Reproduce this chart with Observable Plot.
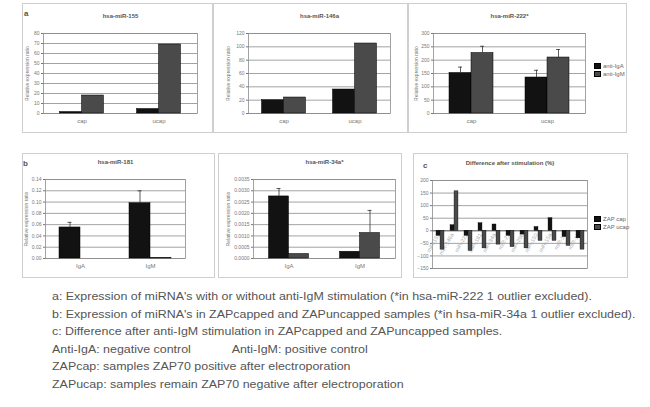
<!DOCTYPE html>
<html><head><meta charset="utf-8">
<script src="https://cdn.jsdelivr.net/npm/d3@7"></script>
<script src="https://cdn.jsdelivr.net/npm/@observablehq/plot@0.6"></script>
<style>
body{margin:0;background:#fff;font-family:"Liberation Sans",Arial,sans-serif;}
#root{position:relative;width:650px;height:407px;overflow:hidden;background:#fff;}
.box{position:absolute;outline:1px solid #cfcfcf;outline-offset:-1px;}
.box svg{display:block;}
.letter{position:absolute;font-weight:bold;font-size:8px;color:#555;}
.legend{position:absolute;font-size:6px;color:#666;line-height:8px;white-space:nowrap;}
.legend i{display:inline-block;width:5px;height:4px;margin-right:2px;border:0.5px solid #000;vertical-align:middle;}
.cap{position:absolute;left:52px;top:288px;font-size:11px;color:#555;line-height:17.6px;white-space:nowrap;transform:scaleX(1.13);transform-origin:0 0;}
</style></head><body><div id="root"></div>
<script>
// ---- data ----
const catsA = ["cap", "ucap"];
const catsB = ["IgA", "IgM"];
const seriesA = ["anti-IgA", "anti-IgM"];
const seriesC = ["ZAP cap", "ZAP ucap"];

const titleA1 = "hsa-miR-155";
const a1Black = [1.5, 4.5];
const a1Gray = [18, 69];
const a1Ticks = [0, 10, 20, 30, 40, 50, 60, 70, 80];

const titleA2 = "hsa-miR-146a";
const a2Black = [20, 36];
const a2Gray = [24, 105];
const a2Ticks = [0, 20, 40, 60, 80, 100, 120];

const titleA3 = "hsa-miR-222*";
const a3Black = [152, 135];
const a3Gray = [227, 210];
const a3ErrBlack = [22, 27];
const a3ErrGray = [25, 30];
const a3Ticks = [0, 50, 100, 150, 200, 250, 300];

const titleB1 = "hsa-miR-181";
const b1Black = [0.055, 0.098];
const b1Gray = [0, 0.001];
const b1ErrBlack = [0.009, 0.022];
const b1ErrGray = [0, 0];
const b1Ticks = [0, 0.02, 0.04, 0.06, 0.08, 0.1, 0.12, 0.14];

const titleB2 = "hsa-miR-34a*";
const b2Black = [0.00275, 0.0003];
const b2Gray = [0.0002, 0.00113];
const b2ErrBlack = [0.00035, 0];
const b2ErrGray = [0, 0.001];
const b2Ticks = [0, 0.0005, 0.001, 0.0015, 0.002, 0.0025, 0.003, 0.0035];

const titleC = "Difference after stimulation (%)";
const catsC = ["miR-155", "miR-146a", "miR-222", "miR-181", "miR-34a", "miR-21", "miR-29b", "miR-150", "miR-15a", "miR-16", "miR-17"];
const cBlack = [-20, 22, -20, 30, 25, -20, -15, 15, 50, -25, -30];
const cGray = [-75, 157, -80, -70, -55, -65, -70, -40, -40, -60, -75];
const cTicks = [-150, -100, -50, 0, 50, 100, 150, 200];

const yLabel = "Relative expression ratio";
const captions = [
  "a: Expression of miRNA's with or without anti-IgM stimulation (*in hsa-miR-222 1 outlier excluded).",
  "b: Expression of miRNA's in ZAPcapped and ZAPuncapped samples (*in hsa-miR-34a 1 outlier excluded).",
  "c: Difference after anti-IgM stimulation in ZAPcapped and ZAPuncapped samples.",
  ["Anti-IgA: negative control", "Anti-IgM: positive control"],
  "ZAPcap: samples ZAP70 positive after electroporation",
  "ZAPucap: samples remain ZAP70 negative after electroporation"
];

// ---- drawing ----
const root = document.getElementById("root");
const BLACK = "#121212", GRAY = "#4a4a4a", GRID = "#8c8c8c", TXT = "#777";

function place(el, box) {
  const d = document.createElement("div");
  d.className = "box";
  d.style.left = box[0] + "px"; d.style.top = box[1] + "px";
  d.style.width = box[2] + "px"; d.style.height = box[3] + "px";
  d.appendChild(el);
  root.appendChild(d);
}

function barPanel(s) {
  const [bx, by, bwid, bh] = s.box;
  const [l, t, r, b] = s.frame;
  const n = s.cats.length, step = (r - l) / n, w = s.bw;
  const rows = s.cats.map((c, i) => ({
    cat: c, k: s.black[i], g: s.gray[i],
    ek: (s.errB || [])[i] || 0, eg: (s.errG || [])[i] || 0
  }));
  const chart = Plot.plot({
    width: bwid, height: bh,
    marginLeft: l - bx, marginRight: bx + bwid - r,
    marginTop: t - by, marginBottom: by + bh - b,
    style: {background: "transparent", overflow: "visible", fontFamily: "Liberation Sans, Arial, sans-serif"},
    x: {type: "band", domain: s.cats, padding: 0},
    y: {domain: [s.ticks[0], s.ticks[s.ticks.length - 1]]},
    marks: [
      Plot.gridY(s.ticks, {stroke: GRID, strokeOpacity: 1, strokeWidth: 0.8}),
      Plot.frame({stroke: GRID, strokeWidth: 0.8}),
      Plot.barY(rows, {x: "cat", y: "k", fill: BLACK, stroke: "#000", strokeWidth: 0.5,
        insetLeft: step / 2 - w, insetRight: step / 2}),
      Plot.barY(rows, {x: "cat", y: "g", fill: GRAY, stroke: "#000", strokeWidth: 0.5,
        insetLeft: step / 2, insetRight: step / 2 - w}),
      Plot.ruleX(rows.filter(d => d.ek > 0), {x: "cat", y1: "k", y2: d => d.k + d.ek, dx: -w / 2, stroke: "#333", strokeWidth: 0.8}),
      Plot.ruleX(rows.filter(d => d.eg > 0), {x: "cat", y1: "g", y2: d => d.g + d.eg, dx: w / 2, stroke: "#333", strokeWidth: 0.8}),
      Plot.tickY(rows.filter(d => d.ek > 0), {x: "cat", y: d => d.k + d.ek, stroke: "#333", strokeWidth: 0.8,
        insetLeft: step / 2 - w / 2 - 2, insetRight: step / 2 + w / 2 - 2}),
      Plot.tickY(rows.filter(d => d.eg > 0), {x: "cat", y: d => d.g + d.eg, stroke: "#333", strokeWidth: 0.8,
        insetLeft: step / 2 + w / 2 - 2, insetRight: step / 2 - w / 2 - 2}),
      Plot.axisY(s.ticks, {tickSize: 2, tickPadding: 2, tickFormat: s.fmt, fontSize: 5, color: TXT,
        label: yLabel, labelAnchor: "center", labelOffset: l - s.labelX, labelArrow: "none"}),
      Plot.axisX({tickSize: 0, tickPadding: 5, fontSize: 6, color: TXT, label: null}),
      Plot.text([s.title], {frameAnchor: "top", dy: s.titleY - t, fontSize: 6, fontWeight: "bold", fill: "#555", lineAnchor: "middle"})
    ]
  });
  place(chart, s.box);
}

const fmtInt = d3.format("d");
barPanel({box: [22, 3, 191, 130], frame: [43, 33, 197, 113], title: titleA1, titleY: 16, labelX: 25,
  cats: catsA, black: a1Black, gray: a1Gray, ticks: a1Ticks, fmt: fmtInt, bw: 22});
barPanel({box: [213, 3, 195, 130], frame: [248, 33, 390, 113], title: titleA2, titleY: 16, labelX: 226,
  cats: catsA, black: a2Black, gray: a2Gray, ticks: a2Ticks, fmt: fmtInt, bw: 22});
barPanel({box: [408, 3, 219, 130], frame: [433, 33, 585, 113], title: titleA3, titleY: 16, labelX: 414,
  cats: catsA, black: a3Black, gray: a3Gray, errB: a3ErrBlack, errG: a3ErrGray, ticks: a3Ticks, fmt: fmtInt, bw: 22});
barPanel({box: [22, 153, 193, 125], frame: [45, 179, 185, 258], title: titleB1, titleY: 162, labelX: 24,
  cats: catsB, black: b1Black, gray: b1Gray, errB: b1ErrBlack, errG: b1ErrGray, ticks: b1Ticks, fmt: d3.format(".2f"), bw: 21});
barPanel({box: [218, 153, 184, 125], frame: [253, 179, 395, 258], title: titleB2, titleY: 162, labelX: 226,
  cats: catsB, black: b2Black, gray: b2Gray, errB: b2ErrBlack, errG: b2ErrGray, ticks: b2Ticks, fmt: d3.format(".4f"), bw: 20});

// panel c
(function () {
  const box = [413, 153, 215, 125], l = 432, t = 180, r = 587, b = 268;
  const n = catsC.length, step = (r - l) / n, w = 4;
  const rows = catsC.map((c, i) => ({cat: c, k: cBlack[i], g: cGray[i]}));
  const chart = Plot.plot({
    width: box[2], height: box[3],
    marginLeft: l - box[0], marginRight: box[0] + box[2] - r,
    marginTop: t - box[1], marginBottom: box[1] + box[3] - b,
    style: {background: "transparent", overflow: "visible", fontFamily: "Liberation Sans, Arial, sans-serif"},
    x: {type: "band", domain: catsC, padding: 0, axis: null},
    y: {domain: [cTicks[0], cTicks[cTicks.length - 1]]},
    marks: [
      Plot.gridY(cTicks, {stroke: GRID, strokeOpacity: 1, strokeWidth: 0.8}),
      Plot.frame({stroke: GRID, strokeWidth: 0.8}),
      Plot.text(catsC, {x: d => d, y: 0, text: d => d, rotate: -60, textAnchor: "end", dy: 3, dx: -2, fontSize: 5.5, fill: "#aaa"}),
      Plot.ruleY([0], {stroke: "#555", strokeWidth: 0.8}),
      Plot.barY(rows, {x: "cat", y: "k", fill: BLACK, stroke: "#000", strokeWidth: 0.4, insetLeft: step / 2 - w, insetRight: step / 2}),
      Plot.barY(rows, {x: "cat", y: "g", fill: GRAY, stroke: "#000", strokeWidth: 0.4, insetLeft: step / 2, insetRight: step / 2 - w}),
      Plot.axisY(cTicks, {tickSize: 2, tickPadding: 2, fontSize: 5, color: TXT, label: null}),
      Plot.text([titleC], {frameAnchor: "top", dy: 163 - t, fontSize: 6, fontWeight: "bold", fill: "#555", lineAnchor: "middle"})
    ]
  });
  place(chart, box);
})();

// panel letters
[["a", 24, 9], ["b", 23, 159], ["c", 423, 161]].forEach(([txt, x, y]) => {
  const s = document.createElement("div");
  s.className = "letter"; s.textContent = txt;
  s.style.left = x + "px"; s.style.top = y + "px";
  root.appendChild(s);
});

// legends
function legend(names, x, y) {
  const d = document.createElement("div");
  d.className = "legend";
  d.style.left = x + "px"; d.style.top = y + "px";
  d.innerHTML = names.map((nm, i) => `<div><i style="background:${i ? GRAY : BLACK}"></i>${nm}</div>`).join("");
  root.appendChild(d);
}
legend(seriesA, 594, 62);
legend(seriesC, 594, 215);

// captions
const cap = document.createElement("div");
cap.className = "cap";
cap.innerHTML = captions.map(c => Array.isArray(c)
  ? `<div><span style="display:inline-block;width:159px">${c[0]}</span>${c[1]}</div>`
  : `<div>${c}</div>`).join("");
root.appendChild(cap);
</script>
</body></html>
